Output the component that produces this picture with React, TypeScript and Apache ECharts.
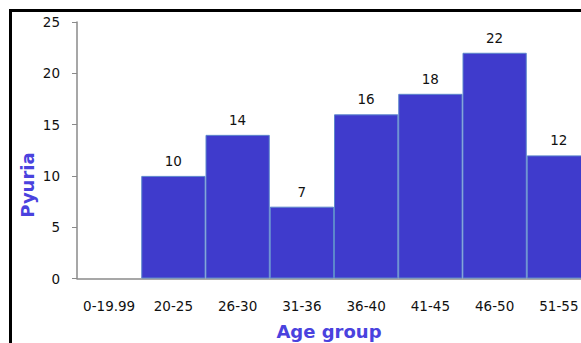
import React, { useEffect, useRef } from "react";
import * as echarts from "echarts";

const categories = ["0-19.99", "20-25", "26-30", "31-36", "36-40", "41-45", "46-50", "51-55"];
const pyuria = [0, 10, 14, 7, 16, 18, 22, 12];
const yTicks = { min: 0, max: 25, interval: 5 };

export default function App() {
  const ref = useRef<HTMLDivElement>(null);
  useEffect(() => {
    document.body.style.margin = "0";
    document.body.style.overflow = "hidden";
    const chart = echarts.init(ref.current!, undefined, { renderer: "svg" });
    const font = "DejaVu Sans, Verdana, sans-serif";
    chart.setOption({
      animation: false,
      backgroundColor: "#ffffff",
      grid: { left: 77, top: 22, width: 514, height: 256.5 },
      xAxis: {
        type: "category",
        data: categories,
        axisLine: { lineStyle: { color: "#8a8a8a", width: 1.5 } },
        axisTick: { show: false },
        axisLabel: { color: "#111", fontFamily: font, fontSize: 13.5, margin: 20, interval: 0 },
      },
      yAxis: {
        type: "value",
        min: yTicks.min,
        max: yTicks.max,
        interval: yTicks.interval,
        splitLine: { show: false },
        axisLine: { show: true, lineStyle: { color: "#8a8a8a", width: 1.5 } },
        axisTick: { show: true, inside: false, length: 5, lineStyle: { color: "#8a8a8a" } },
        axisLabel: { color: "#111", fontFamily: font, fontSize: 13.5, margin: 17 },
      },
      graphic: [
        {
          type: "text",
          x: 27,
          y: 185,
          rotation: Math.PI / 2,
          style: {
            text: "Pyuria",
            fill: "#4a42de",
            font: `bold 18px ${font}`,
            align: "center",
            verticalAlign: "middle",
          },
        },
        {
          type: "text",
          x: 329,
          y: 331,
          style: {
            text: "Age group",
            fill: "#4a42de",
            font: `bold 18px ${font}`,
            align: "center",
            verticalAlign: "middle",
          },
        },
      ],
      series: [
        {
          type: "bar",
          data: pyuria.map((v) => ({
            value: v,
            itemStyle: v > 0 ? undefined : { borderWidth: 0 },
          })),
          barCategoryGap: "0%",
          itemStyle: { color: "#3f3bcc", borderColor: "#5c86cc", borderWidth: 1 },
          label: {
            show: true,
            position: "top",
            distance: 8,
            color: "#111",
            fontFamily: font,
            fontSize: 13.5,
            formatter: (p: any) => (p.value > 0 ? String(p.value) : ""),
          },
        },
      ],
    });
    return () => chart.dispose();
  }, []);
  return (
    <div style={{ position: "fixed", left: 0, top: 0, width: 581, height: 343, overflow: "hidden", background: "#fff" }}>
      <div ref={ref} style={{ position: "absolute", left: 0, top: 0, width: 640, height: 343 }} />
      <div
        style={{
          position: "absolute",
          left: 9,
          top: 9,
          width: 700,
          height: 400,
          borderLeft: "3px solid #000",
          borderTop: "3px solid #000",
          pointerEvents: "none",
        }}
      />
    </div>
  );
}
